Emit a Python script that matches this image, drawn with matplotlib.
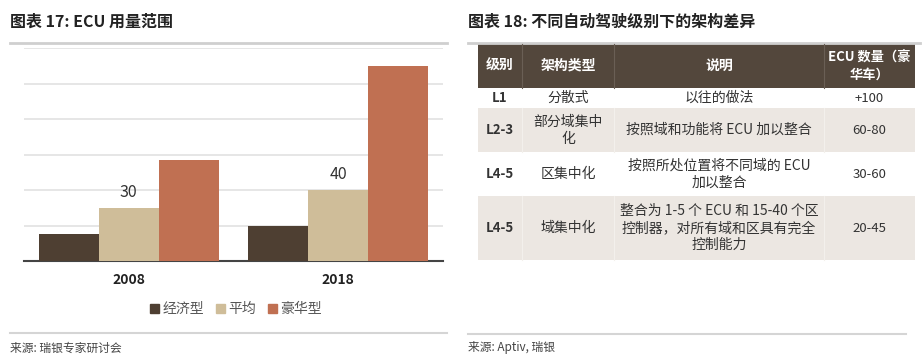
import matplotlib
matplotlib.use("Agg")
import matplotlib.pyplot as plt
from matplotlib.patches import Rectangle
import numpy as np

plt.rcParams['font.family'] = ['Noto Sans CJK SC', 'DejaVu Sans']

# ---------------- data ----------------
years = ["2008", "2018"]
series_names = ["经济型", "平均", "豪华型"]
economy = [15, 20]
average = [30, 40]
luxury = [57, 110]
avg_labels = ["30", "40"]

left_title = "图表 17: ECU 用量范围"
left_source = "来源: 瑞银专家研讨会"
right_title = "图表 18: 不同自动驾驶级别下的架构差异"
right_source = "来源: Aptiv, 瑞银"

table_header = ["级别", "架构类型", "说明", "ECU 数量（豪\n华车）"]
table_levels = ["L1", "L2-3", "L4-5", "L4-5"]
table_types = ["分散式", "部分域集中\n化", "区集中化", "域集中化"]
table_desc = ["以往的做法", "按照域和功能将 ECU 加以整合",
              "按照所处位置将不同域的 ECU\n加以整合",
              "整合为 1-5 个 ECU 和 15-40 个区\n控制器，对所有域和区具有完全\n控制能力"]
table_counts = ["+100", "60-80", "30-60", "20-45"]

colors = ["#4e3f32", "#cfbd99", "#c07052"]

W, H = 922, 360
fig = plt.figure(figsize=(W / 100, H / 100), dpi=100)

# overlay axes in pixel coords
ov = fig.add_axes([0, 0, 1, 1], zorder=0)
ov.set_xlim(0, W)
ov.set_ylim(H, 0)
ov.axis("off")

# ---------------- left bar chart ----------------
ax = fig.add_axes([24 / W, 1 - 261 / H, 419 / W, (261 - 48) / H], zorder=2)
x = np.arange(len(years))
bw = 0.286
for i, (vals, c, name) in enumerate(zip([economy, average, luxury], colors, series_names)):
    ax.bar(x + (i - 1) * bw, vals, width=bw, color=c, label=name, zorder=3)
for xi, v, t in zip(x, average, avg_labels):
    ax.text(xi, v + 4, t, ha="center", va="bottom", fontsize=11.5, color="#333333")
ax.set_xlim(-0.5, 1.5)
ax.set_ylim(0, 120)
ax.set_yticks(np.arange(0, 121, 20))
ax.yaxis.grid(True, color="#e2e2e2", linewidth=1.2, zorder=0)
ax.tick_params(axis="y", left=False, labelleft=False)
ax.tick_params(axis="x", bottom=False, pad=5)
ax.set_xticks(x)
ax.set_xticklabels(years, fontsize=10, fontweight="bold", color="#222222")
for s in ["top", "right", "left"]:
    ax.spines[s].set_visible(False)
ax.spines["bottom"].set_color("#444444")
ax.spines["bottom"].set_linewidth(1.5)
ax.patch.set_alpha(0)

handles = [Rectangle((0, 0), 1, 1, color=c) for c in colors]
fig.legend(handles, series_names, loc="center", bbox_to_anchor=(236 / W, 1 - 309 / H),
           ncol=3, frameon=False, fontsize=10, handlelength=0.6, handleheight=0.6,
           handletextpad=0.25, columnspacing=0.9, labelcolor="#555555")

ov.text(10, 22, left_title, fontsize=11.5, fontweight="bold", va="center", ha="left", color="#222222")
ov.plot([10, 447], [43, 43], color="#cfcfcf", lw=2)
ov.plot([10, 447], [333, 333], color="#d5d5d5", lw=1.5)
ov.text(10, 348, left_source, fontsize=8.5, va="center", ha="left", color="#444444")

# ---------------- right table ----------------
ov.text(468, 22, right_title, fontsize=11.5, fontweight="bold", va="center", ha="left", color="#222222")
ov.plot([468, 920], [43, 43], color="#cfcfcf", lw=2)
ov.plot([468, 906], [334, 334], color="#d5d5d5", lw=1.5)
ov.text(468, 348, right_source, fontsize=8.5, va="center", ha="left", color="#444444")

col_edges = [478, 522, 614, 824, 915]
row_edges = [44, 88, 108, 152, 196, 260]
header_bg = "#53473c"
shade = "#ece7e2"

ov.add_patch(Rectangle((col_edges[0], row_edges[0]), col_edges[-1] - col_edges[0],
                       row_edges[1] - row_edges[0], color=header_bg, lw=0))
for ce in col_edges[1:-1]:
    ov.plot([ce, ce], [row_edges[0], row_edges[1]], color="#6a5f55", lw=0.8)
for j, h in enumerate(table_header):
    cx = (col_edges[j] + col_edges[j + 1]) / 2
    ov.text(cx, (row_edges[0] + row_edges[1]) / 2, h, ha="center", va="center",
            fontsize=10 if j < 3 else 9.5, fontweight="bold", color="white", linespacing=1.25)

for r in range(len(table_levels)):
    y0, y1 = row_edges[r + 1], row_edges[r + 2]
    if r % 2 == 1:
        ov.add_patch(Rectangle((col_edges[0], y0), col_edges[-1] - col_edges[0], y1 - y0,
                               color=shade, lw=0))
        for ce in col_edges[1:-1]:
            ov.plot([ce, ce], [y0, y1], color="#f3f0ec", lw=0.8)
    cy = (y0 + y1) / 2
    cells = [table_levels[r], table_types[r], table_desc[r], table_counts[r]]
    for j, t in enumerate(cells):
        cx = (col_edges[j] + col_edges[j + 1]) / 2
        fs = 9.5 if j in (0, 3) else 10
        ov.text(cx, cy, t, ha="center", va="center", fontsize=fs,
                fontweight="bold" if j == 0 else "normal",
                color="#333333", linespacing=1.3)

fig.savefig("out.png", dpi=100)
